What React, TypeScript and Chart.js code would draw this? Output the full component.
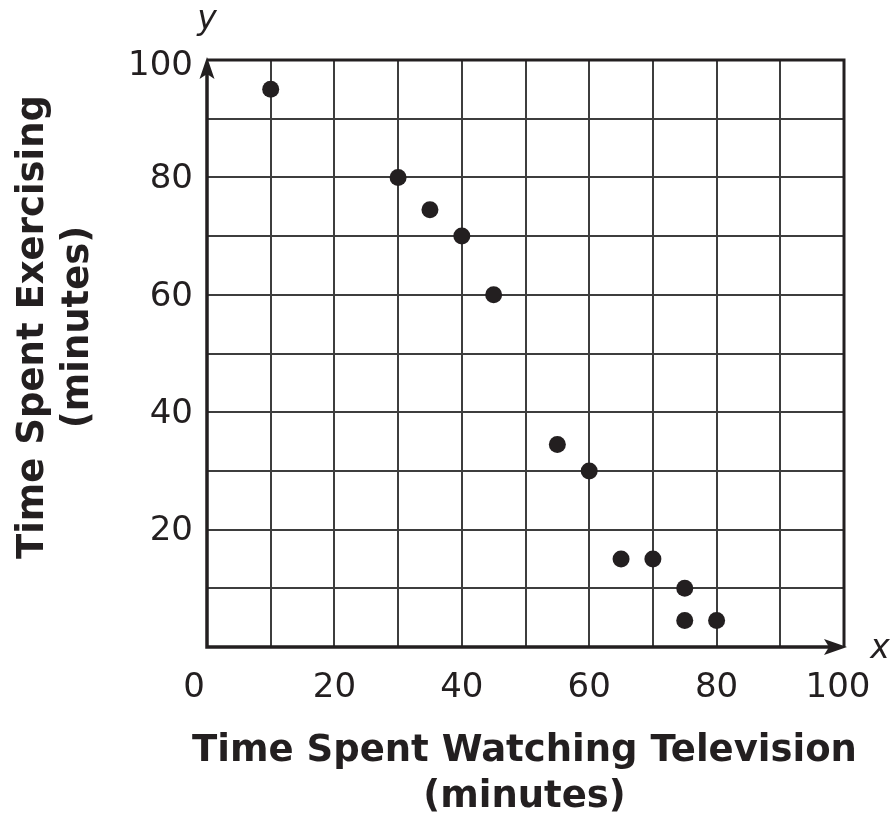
import React, { useEffect, useRef } from "react";
import { Chart, registerables } from "chart.js";

Chart.register(...registerables);

const tvMinutes = [10, 30, 35, 40, 45, 55, 60, 65, 70, 75, 75, 80];
const exerciseMinutes = [95, 80, 74.5, 70, 60, 34.5, 30, 15, 15, 10, 4.5, 4.5];
const xTickValues = [0, 20, 40, 60, 80, 100];
const yTickValues = [20, 40, 60, 80, 100];
const xTitleLines = ["Time Spent Watching Television", "(minutes)"];
const yTitleLines = ["Time Spent Exercising", "(minutes)"];

const INK = "#231f20";
const FONT = '"DejaVu Sans", Verdana, sans-serif';

const decorPlugin = {
  id: "decor",
  afterDraw(chart: any) {
    const ctx = chart.ctx as CanvasRenderingContext2D;
    const xs = chart.scales.x;
    const ys = chart.scales.y;
    const left = xs.getPixelForValue(0);
    const right = xs.getPixelForValue(100);
    const top = ys.getPixelForValue(100);
    const bottom = ys.getPixelForValue(0);
    ctx.save();
    // frame
    ctx.strokeStyle = INK;
    ctx.lineWidth = 3;
    ctx.beginPath();
    ctx.moveTo(left, top);
    ctx.lineTo(right, top);
    ctx.lineTo(right, bottom);
    ctx.stroke();
    ctx.lineWidth = 3.5;
    ctx.beginPath();
    ctx.moveTo(left, top + 10);
    ctx.lineTo(left, bottom);
    ctx.lineTo(right - 8, bottom);
    ctx.stroke();
    // arrowheads
    ctx.fillStyle = INK;
    ctx.beginPath();
    ctx.moveTo(left, top - 3);
    ctx.lineTo(left + 7.5, top + 19);
    ctx.lineTo(left, top + 14);
    ctx.lineTo(left - 7.5, top + 19);
    ctx.closePath();
    ctx.fill();
    ctx.beginPath();
    ctx.moveTo(right + 3, bottom);
    ctx.lineTo(right - 20, bottom - 8);
    ctx.lineTo(right - 15, bottom);
    ctx.lineTo(right - 20, bottom + 8);
    ctx.closePath();
    ctx.fill();

    // tick labels
    ctx.fillStyle = INK;
    ctx.font = `34px ${FONT}`;
    ctx.textBaseline = "middle";
    for (const v of xTickValues) {
      const px = xs.getPixelForValue(v);
      if (v === 0) {
        ctx.textAlign = "right";
        ctx.fillText(String(v), px - 2, bottom + 41);
      } else {
        ctx.textAlign = "center";
        ctx.fillText(String(v), px - (v === 100 ? 6 : 0), bottom + 41);
      }
    }
    ctx.textAlign = "right";
    for (const v of yTickValues) {
      const py = ys.getPixelForValue(v);
      ctx.fillText(String(v), left - 14, py + (v === 100 ? 6 : 2));
    }

    // axis letters
    ctx.font = `italic 33px ${FONT}`;
    ctx.textAlign = "center";
    ctx.fillText("y", left, top - 40);
    ctx.fillText("x", right + 36, bottom + 2);

    // titles
    ctx.font = `bold 37px ${FONT}`;
    ctx.textAlign = "center";
    const cx = (left + right) / 2 - 1;
    ctx.fillText(xTitleLines[0], cx, bottom + 104);
    ctx.fillText(xTitleLines[1], cx, bottom + 150);

    ctx.save();
    ctx.translate(33, 327);
    ctx.rotate(-Math.PI / 2);
    ctx.fillText(yTitleLines[0], 0, 0);
    ctx.fillText(yTitleLines[1], 0, 45);
    ctx.restore();

    ctx.restore();
  },
};

export default function App() {
  const ref = useRef<HTMLCanvasElement | null>(null);
  useEffect(() => {
    if (!ref.current) return;
    const chart = new Chart(ref.current, {
      type: "scatter",
      data: {
        datasets: [
          {
            label: "Exercise vs TV",
            data: tvMinutes.map((x, i) => ({ x, y: exerciseMinutes[i] })),
            backgroundColor: INK,
            borderColor: INK,
            pointRadius: 8.5,
            pointHoverRadius: 8.5,
            borderWidth: 0,
          },
        ],
      },
      options: {
        responsive: false,
        animation: false,
        layout: { padding: { left: 207, right: 46, top: 60, bottom: 167 } },
        plugins: { legend: { display: false }, tooltip: { enabled: false } },
        scales: {
          x: {
            type: "linear",
            min: 0,
            max: 100,
            ticks: { stepSize: 10, display: false },
            grid: { color: "#3d3d3d", lineWidth: 2, drawTicks: false },
            border: { display: false },
            afterFit: (s: any) => {
              s.height = 0;
            },
          },
          y: {
            type: "linear",
            min: 0,
            max: 100,
            ticks: { stepSize: 10, display: false },
            grid: { color: "#3d3d3d", lineWidth: 2, drawTicks: false },
            border: { display: false },
            afterFit: (s: any) => {
              s.width = 0;
            },
          },
        },
      },
      plugins: [decorPlugin],
    });
    return () => chart.destroy();
  }, []);
  return (
    <canvas
      ref={ref}
      width={890}
      height={814}
      style={{ position: "fixed", left: 0, top: 0, background: "#fff" }}
    />
  );
}
